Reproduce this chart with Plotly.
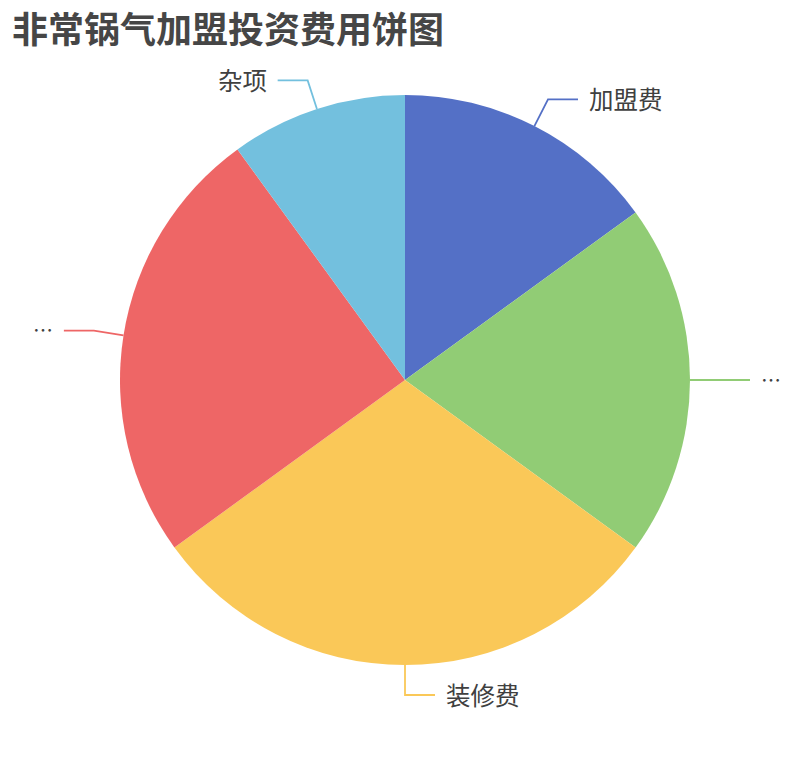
import math
import plotly.graph_objects as go

# Data
labels = ["加盟费", "…", "装修费", "…", "杂项"]
values = [15, 20, 30, 25, 10]
colors = ["#5470c6", "#91cc75", "#fac858", "#ee6666", "#73c0de"]
title_text = "非常锅气加盟投资费用饼图"

W, H = 810, 760
cx, cy, R = 405, 380, 285
len1, len2, gap = 30, 30, 9

fig = go.Figure()
fig.add_trace(go.Pie(
    values=values,
    marker=dict(colors=colors, line=dict(width=0)),
    sort=False,
    direction="clockwise",
    rotation=0,
    textinfo="none",
    hoverinfo="value+percent",
    showlegend=False,
    domain=dict(x=[(cx - R) / W, (cx + R) / W], y=[1 - (cy + R) / H, 1 - (cy - R) / H]),
))

def px2paper(x, y):
    return x / W, 1 - y / H

total = sum(values)
acc = 0
shapes = []
annotations = []
for lab, v, col in zip(labels, values, colors):
    mid = acc + v / 2
    acc += v
    ang = math.radians(90 - 360 * mid / total)
    x0 = cx + R * math.cos(ang)
    y0 = cy - R * math.sin(ang)
    x1 = cx + (R + len1) * math.cos(ang)
    y1 = cy - (R + len1) * math.sin(ang)
    side = 1 if math.cos(ang) >= -1e-9 else -1
    x2 = x1 + side * len2
    y2 = y1
    p0, p1, p2 = px2paper(x0, y0), px2paper(x1, y1), px2paper(x2, y2)
    shapes.append(dict(
        type="path", xref="paper", yref="paper",
        path=f"M {p0[0]} {p0[1]} L {p1[0]} {p1[1]} L {p2[0]} {p2[1]}",
        line=dict(color=col, width=1.8),
    ))
    is_ellipsis = lab == "…"
    annotations.append(dict(
        x=p2[0], y=p2[1], xref="paper", yref="paper",
        text=lab, showarrow=False,
        xanchor="left" if side > 0 else "right", yanchor="middle",
        xshift=side * gap, yshift=1,
        font=dict(size=20 if is_ellipsis else 24.5, color="#404040", family="Noto Sans CJK SC"),
    ))

annotations.append(dict(
    x=10 / W, y=1 - 27 / H, xref="paper", yref="paper",
    text=f"<b>{title_text}</b>", showarrow=False,
    xanchor="left", yanchor="middle",
    font=dict(size=36, color="#464646", family="Noto Sans CJK SC"),
))

fig.update_layout(
    width=W, height=H,
    margin=dict(l=0, r=0, t=0, b=0),
    paper_bgcolor="#ffffff",
    plot_bgcolor="#ffffff",
    shapes=shapes,
    annotations=annotations,
)

fig.write_html("out.html", post_script="document.body.style.margin='0';",
               config={"displayModeBar": False})
